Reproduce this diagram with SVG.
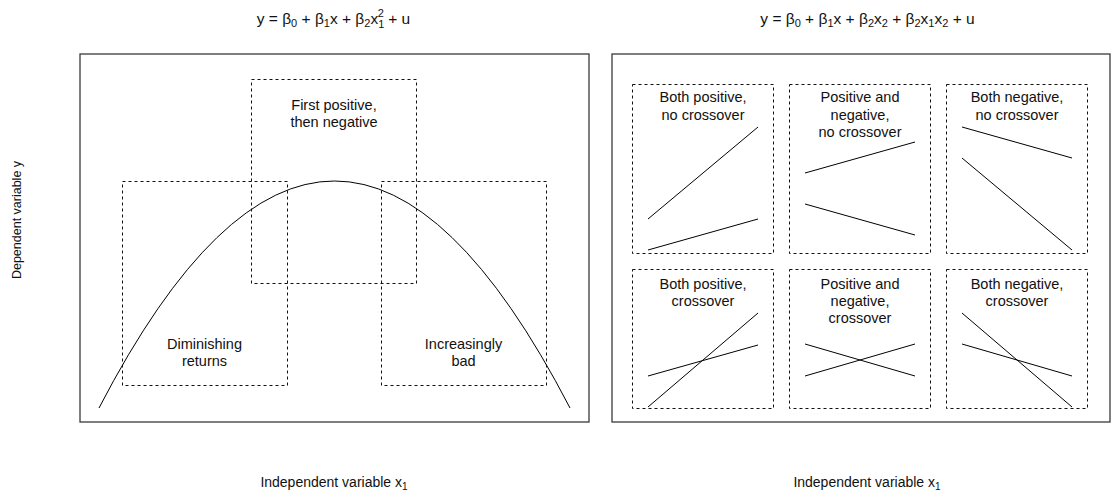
<svg xmlns="http://www.w3.org/2000/svg" width="1113" height="497" viewBox="0 0 1113 497">
<style>
text{font-family:"Liberation Sans",Arial,sans-serif;font-size:14.5px;fill:#111;}
.t{text-anchor:middle;}
.title{font-size:15.5px;}
.s{font-size:11px;}
.ax{font-size:14px;}
.ay{font-size:12.5px;}
.s2{font-size:10px;}
.panel{fill:#fff;stroke:#3a3a3a;stroke-width:1.3;}
.dash{fill:none;stroke:#111;stroke-width:1;stroke-dasharray:3,3;}
.ln{fill:none;stroke:#000;stroke-width:1;}
</style>
<rect width="1113" height="497" fill="#fff"/>
<g id="titles">
<text class="title t" x="333.5" y="24">y = β<tspan class="s" dy="3">0</tspan><tspan dy="-3"> + β</tspan><tspan class="s" dy="3">1</tspan><tspan dy="-3">x + β</tspan><tspan class="s" dy="3">2</tspan><tspan dy="-3">x</tspan><tspan class="s" dy="4">1</tspan><tspan class="s" dx="-6.5" dy="-11">2</tspan><tspan dy="7"> + u</tspan></text>
<text class="title t" x="867.5" y="24">y = β<tspan class="s" dy="3">0</tspan><tspan dy="-3"> + β</tspan><tspan class="s" dy="3">1</tspan><tspan dy="-3">x + β</tspan><tspan class="s" dy="3">2</tspan><tspan dy="-3">x</tspan><tspan class="s" dy="3">2</tspan><tspan dy="-3"> + β</tspan><tspan class="s" dy="3">2</tspan><tspan dy="-3">x</tspan><tspan class="s" dy="3">1</tspan><tspan dy="-3">x</tspan><tspan class="s" dy="3">2</tspan><tspan dy="-3"> + u</tspan></text>
</g>
<g id="axis-labels">
<text class="ay t" transform="translate(21,220) rotate(-90)">Dependent variable y</text>
<text class="ax t" x="334" y="487">Independent variable x<tspan class="s2" dy="3">1</tspan></text>
<text class="ax t" x="867" y="487">Independent variable x<tspan class="s2" dy="3">1</tspan></text>
</g>
<g id="left-panel">
<rect class="panel" x="80" y="54" width="509" height="368"/>
<rect class="dash" x="251.5" y="79.5" width="165" height="204"/>
<rect class="dash" x="122.5" y="181.5" width="165" height="204"/>
<rect class="dash" x="381.5" y="181.5" width="165" height="204"/>
<path class="ln" d="M99,408 Q334.5,-46 570,408"/>
<text class="t" x="334" y="110">First positive,</text>
<text class="t" x="334" y="127">then negative</text>
<text class="t" x="204.5" y="349">Diminishing</text>
<text class="t" x="204.5" y="366">returns</text>
<text class="t" x="463.5" y="349">Increasingly</text>
<text class="t" x="463.5" y="366">bad</text>
</g>
<g id="right-panel">
<rect class="panel" x="612" y="54" width="498" height="368"/>
</g>
<g id="box-pos-nocross">
<rect class="dash" x="632.5" y="84.5" width="141" height="169"/>
<text class="t" x="703" y="102">Both positive,</text>
<text class="t" x="703" y="119.5">no crossover</text>
<line class="ln" x1="648" y1="219" x2="758" y2="127"/>
<line class="ln" x1="648" y1="250" x2="758" y2="219"/>
</g>
<g id="box-mix-nocross">
<rect class="dash" x="789.5" y="84.5" width="141" height="169"/>
<text class="t" x="860" y="102">Positive and</text>
<text class="t" x="860" y="119.5">negative,</text>
<text class="t" x="860" y="137">no crossover</text>
<line class="ln" x1="805" y1="173" x2="915" y2="142"/>
<line class="ln" x1="805" y1="204" x2="915" y2="235"/>
</g>
<g id="box-neg-nocross">
<rect class="dash" x="946.5" y="84.5" width="141" height="169"/>
<text class="t" x="1017" y="102">Both negative,</text>
<text class="t" x="1017" y="119.5">no crossover</text>
<line class="ln" x1="962" y1="127" x2="1072" y2="158"/>
<line class="ln" x1="962" y1="158" x2="1072" y2="250"/>
</g>
<g id="box-pos-cross">
<rect class="dash" x="632.5" y="269.5" width="141" height="139"/>
<text class="t" x="703" y="288.5">Both positive,</text>
<text class="t" x="703" y="305.5">crossover</text>
<line class="ln" x1="648" y1="407" x2="758" y2="313"/>
<line class="ln" x1="648" y1="376" x2="758" y2="345"/>
</g>
<g id="box-mix-cross">
<rect class="dash" x="789.5" y="269.5" width="141" height="139"/>
<text class="t" x="860" y="288.5">Positive and</text>
<text class="t" x="860" y="305.5">negative,</text>
<text class="t" x="860" y="322.5">crossover</text>
<line class="ln" x1="805" y1="344" x2="915" y2="376"/>
<line class="ln" x1="805" y1="376" x2="915" y2="344"/>
</g>
<g id="box-neg-cross">
<rect class="dash" x="946.5" y="269.5" width="141" height="139"/>
<text class="t" x="1017" y="288.5">Both negative,</text>
<text class="t" x="1017" y="305.5">crossover</text>
<line class="ln" x1="962" y1="313" x2="1072" y2="407"/>
<line class="ln" x1="962" y1="344" x2="1072" y2="376"/>
</g>
</svg>
